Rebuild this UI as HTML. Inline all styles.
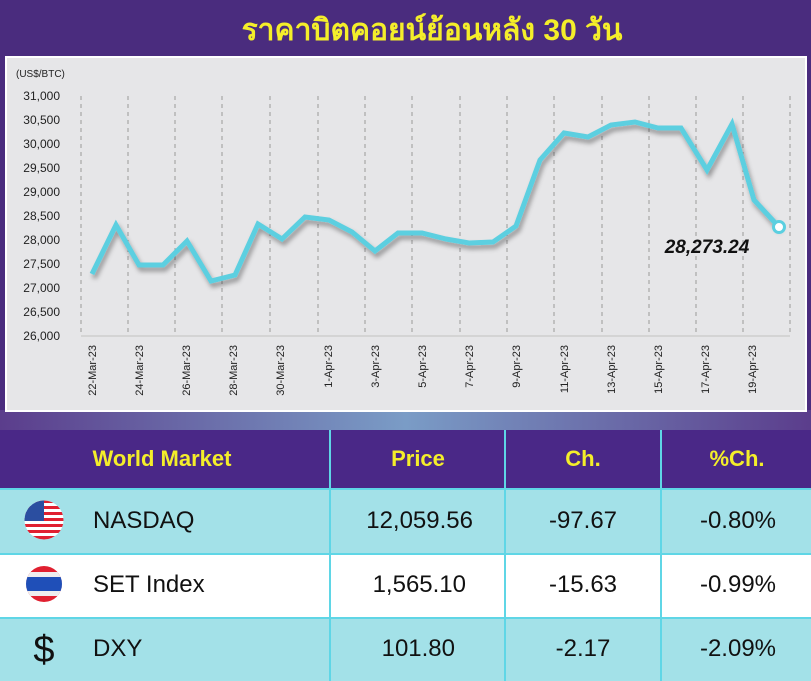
<!DOCTYPE html>
<html><head><meta charset="utf-8"><style>
body{margin:0;width:811px;height:681px;overflow:hidden;background:#4a2c7e;font-family:"Liberation Sans","Noto Sans CJK SC",sans-serif}
</style></head><body>
<svg width="811" height="681" viewBox="0 0 811 681" xmlns="http://www.w3.org/2000/svg" style="display:block">
<defs>
<linearGradient id="band" x1="0" x2="1" y1="0" y2="0">
<stop offset="0" stop-color="#5b3d8c"/><stop offset="0.5" stop-color="#7a9cc6"/><stop offset="1" stop-color="#5b3d8c"/></linearGradient>
<filter id="sh" x="-10%" y="-10%" width="120%" height="130%"><feDropShadow dx="2" dy="4" stdDeviation="2.5" flood-color="#000" flood-opacity="0.35"/></filter>
</defs>
<rect width="811" height="681" fill="#4a2c7e"/>
<text x="432" y="40" text-anchor="middle" font-size="30" font-weight="bold" fill="#f4ee2a" font-family="'Liberation Sans','Noto Sans CJK SC',sans-serif">ราคาบิตคอยน์ย้อนหลัง 30 วัน</text>
<rect x="0" y="410" width="811" height="20" fill="url(#band)"/>
<rect x="6" y="57" width="800" height="354" fill="#e6e6e8" stroke="#fff" stroke-width="2"/>
<text x="16" y="77" font-size="10" fill="#222">(US$/BTC)</text>
<g font-size="12" fill="#222" text-anchor="end">
<text x="60" y="100">31,000</text><text x="60" y="124">30,500</text><text x="60" y="148">30,000</text><text x="60" y="172">29,500</text><text x="60" y="196">29,000</text><text x="60" y="220">28,500</text><text x="60" y="244">28,000</text><text x="60" y="268">27,500</text><text x="60" y="292">27,000</text><text x="60" y="316">26,500</text><text x="60" y="340">26,000</text>
</g>
<g stroke="#999" stroke-width="1" stroke-dasharray="4,4">
<line x1="81" y1="96" x2="81" y2="335"/><line x1="128" y1="96" x2="128" y2="335"/><line x1="175" y1="96" x2="175" y2="335"/><line x1="222" y1="96" x2="222" y2="335"/><line x1="270" y1="96" x2="270" y2="335"/><line x1="318" y1="96" x2="318" y2="335"/><line x1="365" y1="96" x2="365" y2="335"/><line x1="412" y1="96" x2="412" y2="335"/><line x1="460" y1="96" x2="460" y2="335"/><line x1="507" y1="96" x2="507" y2="335"/><line x1="554" y1="96" x2="554" y2="335"/><line x1="602" y1="96" x2="602" y2="335"/><line x1="649" y1="96" x2="649" y2="335"/><line x1="696" y1="96" x2="696" y2="335"/><line x1="743" y1="96" x2="743" y2="335"/><line x1="790" y1="96" x2="790" y2="335"/>
</g>
<line x1="81" y1="336" x2="790" y2="336" stroke="#d4d4d4" stroke-width="2"/>
<g font-size="11" fill="#222" text-anchor="end">
<text transform="translate(96,345) rotate(-90)">22-Mar-23</text>
<text transform="translate(143,345) rotate(-90)">24-Mar-23</text>
<text transform="translate(190,345) rotate(-90)">26-Mar-23</text>
<text transform="translate(237,345) rotate(-90)">28-Mar-23</text>
<text transform="translate(284,345) rotate(-90)">30-Mar-23</text>
<text transform="translate(332,345) rotate(-90)">1-Apr-23</text>
<text transform="translate(379,345) rotate(-90)">3-Apr-23</text>
<text transform="translate(426,345) rotate(-90)">5-Apr-23</text>
<text transform="translate(473,345) rotate(-90)">7-Apr-23</text>
<text transform="translate(520,345) rotate(-90)">9-Apr-23</text>
<text transform="translate(568,345) rotate(-90)">11-Apr-23</text>
<text transform="translate(615,345) rotate(-90)">13-Apr-23</text>
<text transform="translate(662,345) rotate(-90)">15-Apr-23</text>
<text transform="translate(709,345) rotate(-90)">17-Apr-23</text>
<text transform="translate(756,345) rotate(-90)">19-Apr-23</text>
</g>
<polyline filter="url(#sh)" fill="none" stroke="#5bcfe0" stroke-width="5" stroke-linejoin="miter" points="92,274 116,225 139,265 163,265 187,241 211,281 235,275 258,224 282,239 305,217 329,220 352,232 375,251 398,233 422,233 446,239 469,243 493,242 516,226 540,160 564,133 588,137 611,125 635,122 658,128 681,128 707,170 732,124 754,200 779,227"/>
<circle cx="779" cy="227" r="5.5" fill="#fff" stroke="#5bcfe0" stroke-width="3"/>
<text x="707" y="253" text-anchor="middle" font-size="19" font-weight="bold" font-style="italic" fill="#111">28,273.24</text>
<rect x="0" y="430" width="811" height="59" fill="#4a2887"/>
<rect x="0" y="489" width="811" height="65" fill="#a3e1e8"/>
<rect x="0" y="554" width="811" height="64" fill="#ffffff"/>
<rect x="0" y="618" width="811" height="63" fill="#a3e1e8"/>
<g stroke="#5fd6e6" stroke-width="2">
<line x1="330" y1="430" x2="330" y2="681"/><line x1="505" y1="430" x2="505" y2="681"/><line x1="661" y1="430" x2="661" y2="681"/>
<line x1="0" y1="489" x2="811" y2="489"/><line x1="0" y1="554" x2="811" y2="554"/><line x1="0" y1="618" x2="811" y2="618"/>
</g>
<g font-size="22" font-weight="bold" fill="#f4ee2a" text-anchor="middle">
<text x="162" y="466">World Market</text><text x="418" y="466">Price</text><text x="583" y="466">Ch.</text><text x="737" y="466">%Ch.</text>
</g>
<g font-size="24" fill="#111">
<text x="93" y="528">NASDAQ</text><text x="93" y="592">SET Index</text><text x="93" y="656">DXY</text>
</g>
<g font-size="24" fill="#111" text-anchor="end">
<text x="473" y="528">12,059.56</text><text x="466" y="592">1,565.10</text><text x="455" y="656">101.80</text>
</g>
<g font-size="24" fill="#111" text-anchor="middle">
<text x="583" y="528">-97.67</text><text x="583" y="592">-15.63</text><text x="583" y="656">-2.17</text>
<text x="738" y="528">-0.80%</text><text x="738" y="592">-0.99%</text><text x="738" y="656">-2.09%</text>
</g>
<clipPath id="c1"><circle cx="44" cy="520" r="19.5"/></clipPath>
<g clip-path="url(#c1)">
<rect x="24" y="500" width="40" height="40" fill="#fff"/>
<rect x="24" y="500" width="40" height="3" fill="#e02030"/><rect x="24" y="506" width="40" height="3" fill="#e02030"/><rect x="24" y="512" width="40" height="3" fill="#e02030"/><rect x="24" y="518" width="40" height="3" fill="#e02030"/><rect x="24" y="524" width="40" height="3" fill="#e02030"/><rect x="24" y="530" width="40" height="3" fill="#e02030"/><rect x="24" y="536" width="40" height="4" fill="#e02030"/>
<rect x="24" y="500" width="20" height="21" fill="#2b4ea0"/>
</g>
<clipPath id="c2"><circle cx="44" cy="584" r="18"/></clipPath>
<g clip-path="url(#c2)">
<rect x="24" y="564" width="40" height="40" fill="#e02030"/>
<rect x="24" y="572" width="40" height="24" fill="#eee"/>
<rect x="24" y="577" width="40" height="14" fill="#1f4fb8"/>
</g>
<text x="44" y="662" text-anchor="middle" font-size="38" fill="#111">$</text>
</svg>
</body></html>
